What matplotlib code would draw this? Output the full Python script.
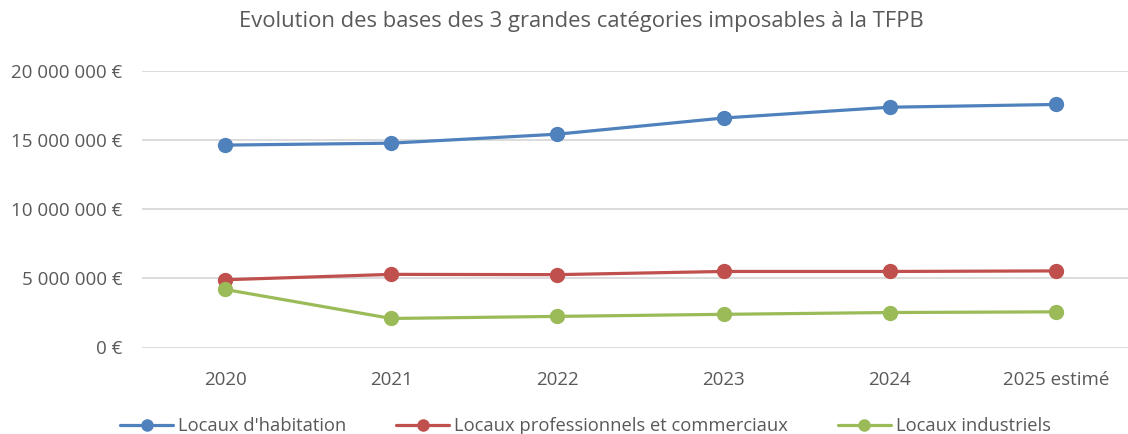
import matplotlib.pyplot as plt
from matplotlib.ticker import FuncFormatter, MultipleLocator

years = ['2020', '2021', '2022', '2023', '2024', '2025 estimé']
habitation = [14640000, 14780000, 15430000, 16600000, 17380000, 17580000]
professionnels = [4900000, 5290000, 5270000, 5500000, 5500000, 5540000]
industriels = [4200000, 2100000, 2250000, 2400000, 2530000, 2580000]

series_names = ["Locaux d'habitation", 'Locaux professionnels et commerciaux', 'Locaux industriels']
colors = ['#4F81BD', '#C0504D', '#9BBB59']
text_col = '#595959'

plt.rcParams['font.family'] = ['Open Sans', 'DejaVu Sans']

fig = plt.figure(figsize=(11.28, 4.34), dpi=100)
# axes slightly wider than the figure, right edge gets clipped like the original
ax = fig.add_axes([142 / 1128, 1 - 347.5 / 434, 997 / 1128, 276.5 / 434])

x = range(len(years))
for vals, name, c in zip([habitation, professionnels, industriels], series_names, colors):
    ax.plot(x, vals, color=c, lw=2.3, marker='o', markersize=10, label=name,
            solid_capstyle='round', zorder=3)

ax.set_xlim(-0.5, len(years) - 0.5)
ax.set_ylim(0, 20000000)
ax.yaxis.set_major_locator(MultipleLocator(5000000))
ax.yaxis.set_major_formatter(FuncFormatter(lambda v, p: '{:,.0f} €'.format(v).replace(',', ' ')))
ax.set_xticks(list(x))
ax.set_xticklabels(years)

ax.grid(axis='y', color='#D9D9D9', lw=1.3)
ax.set_axisbelow(True)
for s in ax.spines.values():
    s.set_visible(False)
ax.tick_params(length=0, labelsize=13.5, labelcolor=text_col)
ax.tick_params(axis='x', pad=17)
ax.tick_params(axis='y', pad=14)

fig.text(581 / 1128, 1 - 22 / 434, 'Evolution des bases des 3 grandes catégories imposables à la TFPB',
         ha='center', va='center', fontsize=15.8, color=text_col)

leg = fig.legend(loc='center', bbox_to_anchor=(585.5 / 1128, 1 - 426 / 434), ncol=3, frameon=False,
                 fontsize=13.2, handlelength=2.9, handletextpad=0.27, columnspacing=2.7,
                 labelcolor=text_col)
for h in leg.legend_handles:
    h.set_markersize(8)

fig.savefig('out.png', dpi=100)
